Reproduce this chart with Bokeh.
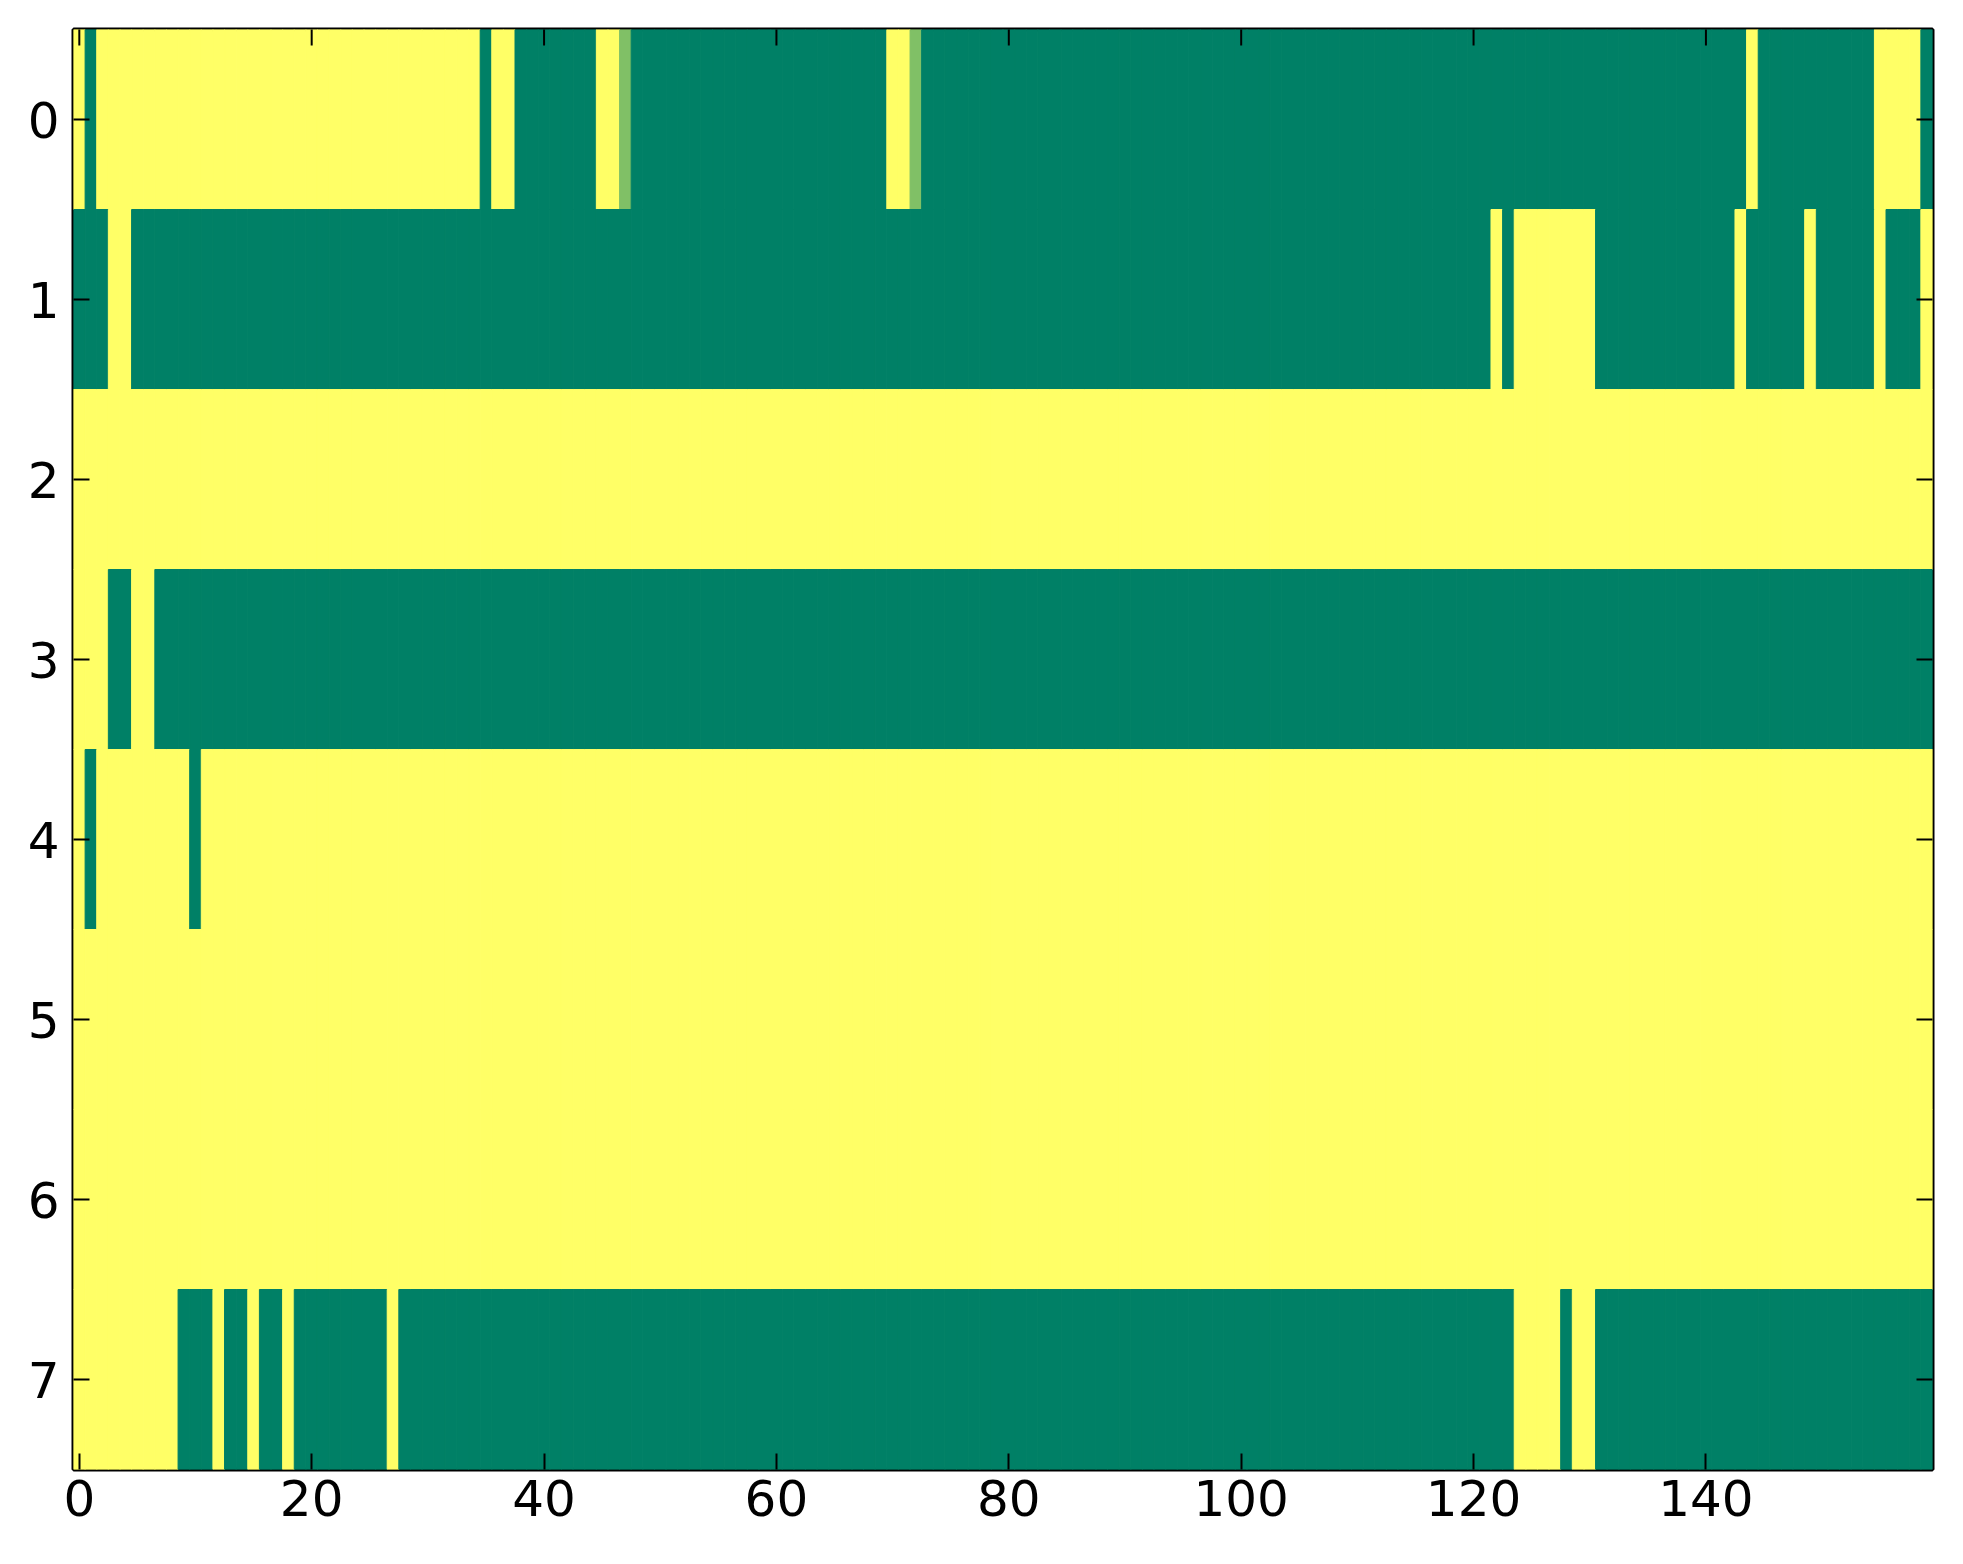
import numpy as np
from bokeh.plotting import figure
from bokeh.models import Range1d, FixedTicker, ColumnDataSource
from bokeh.transform import linear_cmap
from bokeh.embed import file_html
from bokeh.resources import INLINE

# ---- data: each row as run-length pairs (value, count), 160 columns per row ----
row_0 = [(1, 1), (0, 1), (1, 33), (0, 1), (1, 2), (0, 7), (1, 2), (0.5, 1), (0, 22),
         (1, 2), (0.5, 1), (0, 71), (1, 1), (0, 10), (1, 4), (0, 1)]
row_1 = [(0, 3), (1, 2), (0, 117), (1, 1), (0, 1), (1, 7), (0, 12), (1, 1), (0, 5),
         (1, 1), (0, 5), (1, 1), (0, 3), (1, 1)]
row_2 = [(1, 160)]
row_3 = [(1, 3), (0, 2), (1, 2), (0, 153)]
row_4 = [(1, 1), (0, 1), (1, 8), (0, 1), (1, 149)]
row_5 = [(1, 160)]
row_6 = [(1, 160)]
row_7 = [(1, 9), (0, 3), (1, 1), (0, 2), (1, 1), (0, 2), (1, 1), (0, 8), (1, 1), (0, 96),
         (1, 4), (0, 1), (1, 2), (0, 29)]
rows = [row_0, row_1, row_2, row_3, row_4, row_5, row_6, row_7]
x_ticks = [0, 20, 40, 60, 80, 100, 120, 140]
y_ticks = [0, 1, 2, 3, 4, 5, 6, 7]
n_cols = 160

xs, ys, vs = [], [], []
for r, runs in enumerate(rows):
    c = 0
    for val, cnt in runs:
        for _ in range(cnt):
            xs.append(c)
            ys.append(r)
            vs.append(float(val))
            c += 1
src = ColumnDataSource(dict(x=xs, y=ys, v=vs))

# matplotlib "summer" colormap
summer = ["#%02x%02x%02x" % (round(255 * t), round(255 * (0.5 + 0.5 * t)), round(255 * 0.4))
          for t in np.linspace(0, 1, 256)]
cmap = linear_cmap("v", summer, 0, 1)

x_lo, x_hi = -0.5, n_cols - 0.5
y_lo, y_hi = -0.5, len(rows) - 0.5

p = figure(output_backend="svg", toolbar_location=None,
           frame_width=1859, frame_height=1440,
           x_range=Range1d(x_lo, x_hi), y_range=Range1d(y_hi, y_lo),
           min_border_left=73, min_border_top=29, min_border_right=15, min_border_bottom=70)
p.background_fill_color = "white"
p.border_fill_color = "white"
p.grid.visible = False
p.outline_line_color = "black"
p.outline_line_width = 4

p.rect(x="x", y="y", width=1, height=1, source=src,
       fill_color=cmap, line_color=cmap, line_width=1)

# inward ticks on the top and right edges (half of each dash is clipped by the frame)
p.scatter(x=x_ticks, y=[y_lo] * len(x_ticks), marker="dash", size=32, angle=np.pi / 2,
          line_color="black", line_width=2)
p.scatter(x=[x_hi] * len(y_ticks), y=y_ticks, marker="dash", size=32,
          line_color="black", line_width=2)

font = "DejaVu Sans"
fs = "50px"

for ax in (p.xaxis[0], p.yaxis[0]):
    ax.axis_line_color = None
    ax.major_tick_in = 16
    ax.major_tick_out = 0
    ax.major_tick_line_width = 2
    ax.major_tick_line_color = "black"
    ax.minor_tick_line_color = None
    ax.major_label_text_font = font
    ax.major_label_text_color = "black"
    ax.major_label_text_font_size = fs

p.xaxis.ticker = FixedTicker(ticks=x_ticks)
p.yaxis.ticker = FixedTicker(ticks=y_ticks)
p.xaxis.major_label_standoff = 10
p.yaxis.major_label_standoff = 14

open("out.html", "w").write(file_html(p, INLINE))
